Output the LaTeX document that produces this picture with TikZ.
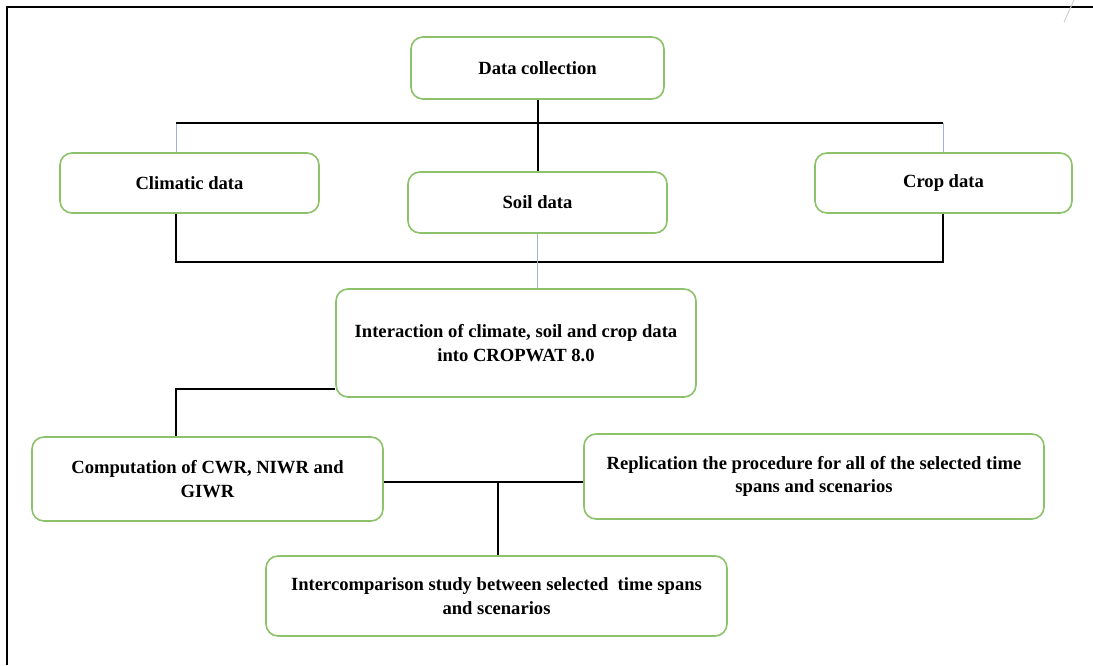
\documentclass[tikz,border=0pt]{standalone}
\usepackage{fontspec}
\setmainfont{Liberation Serif}
\begin{document}
\begin{tikzpicture}[x=1pt,y=-1pt,
  box/.style={draw=boxgreen,line width=1.6pt,rounded corners=12pt,fill=white,align=center,
    font=\fontsize{18.6}{23.5}\selectfont\bfseries,inner sep=2pt},
  thick line/.style={line width=2pt,black},
  thin line/.style={line width=0.8pt,linkblue}]
\definecolor{boxgreen}{HTML}{8CC26A}
\definecolor{linkblue}{HTML}{9DB3D6}
\useasboundingbox (0,0) rectangle (1093,665);
% frame
\draw[line width=2pt] (7,665) -- (7,7) -- (1093,7);
\draw[gray!35,line width=1pt] (1064,22) -- (1074,0);
% nodes
\node[box,minimum width=253pt,minimum height=62pt] (dc) at (537.5,68) {Data collection};
\node[box,minimum width=259pt,minimum height=60pt] (clim) at (189.5,183) {Climatic data};
\node[box,minimum width=259pt,minimum height=61pt] (soil) at (537.5,202.5) {Soil data};
\node[box,minimum width=257pt,minimum height=60pt] (crop) at (943.5,183) {Crop data};
\node[box,minimum width=360pt,minimum height=108pt] (inter) at (516,343) {Interaction of climate, soil and crop data\\into CROPWAT 8.0};
\node[box,minimum width=351pt,minimum height=84pt] (comp) at (207.5,479) {Computation of CWR, NIWR and\\GIWR};
\node[box,minimum width=460pt,minimum height=85pt] (repl) at (814,476.5) {Replication the procedure for all of the selected time\\spans and scenarios};
\node[box,minimum width=461pt,minimum height=80pt] (interc) at (496.5,596) {Intercomparison study between selected\ \ time spans\\and scenarios};
% coordinates
\coordinate (hl) at (176,123);
\coordinate (hr) at (943,123);
\coordinate (bl) at (176,262);
\coordinate (br) at (943,262);
\coordinate (cl) at (176,389);
\coordinate (mj) at (498,482);
% connectors
\draw[thin line] (hl) -- (hl |- clim.north);
\draw[thin line] (hr) -- (hr |- crop.north);
\draw[thick line] (hl) -- (hr);
\draw[thick line] (dc.south) -- (soil.north);
\draw[thick line] (bl |- clim.south) -- (bl) -- (br) -- (br |- crop.south);
\draw[thin line] (soil.south) -- (soil.south |- inter.north);
\draw[thick line] (inter.west |- cl) -- (cl) -- (cl |- comp.north);
\draw[thick line] (comp.east |- mj) -- (repl.west |- mj);
\draw[thick line] (mj) -- (mj |- interc.north);
\end{tikzpicture}
\end{document}
